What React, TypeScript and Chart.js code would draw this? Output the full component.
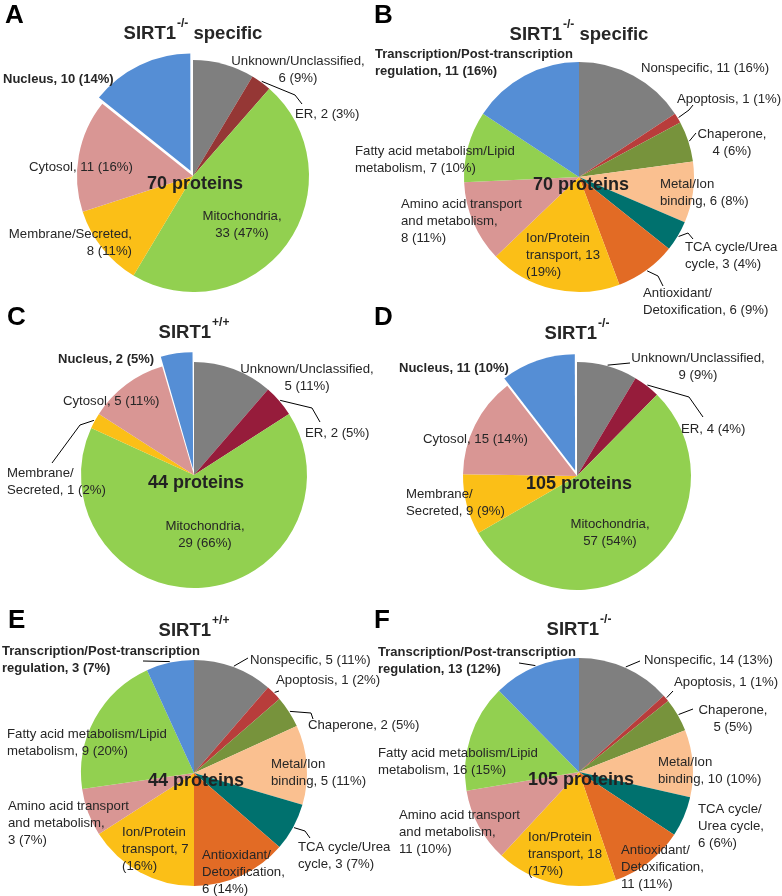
import React, { useEffect, useRef } from 'react';
import { Chart, registerables } from 'chart.js';

Chart.register(...registerables);

const W = 782;
const H = 896;
const FONT = '"Liberation Sans", Arial, Helvetica, sans-serif';
const TEXT = '#262626';

// ---------- data ----------
const locationCategories = ['Unknown/Unclassified', 'ER', 'Mitochondria', 'Membrane/Secreted', 'Cytosol', 'Nucleus'];
const locationA = [6, 2, 33, 8, 11, 10];
const locationC = [5, 2, 29, 1, 5, 2];
const locationD = [9, 4, 57, 9, 15, 11];

const functionCategories = [
  'Nonspecific', 'Apoptosis', 'Chaperone', 'Metal/Ion binding', 'TCA cycle/Urea cycle',
  'Antioxidant/Detoxification', 'Ion/Protein transport', 'Amino acid transport and metabolism',
  'Fatty acid metabolism/Lipid metabolism', 'Transcription/Post-transcription regulation',
];
const functionB = [11, 1, 4, 6, 3, 6, 13, 8, 7, 11];
const functionE = [5, 1, 2, 5, 3, 6, 7, 3, 9, 3];
const functionF = [14, 1, 5, 10, 6, 11, 18, 11, 16, 13];

const proteinTotals = ['70 proteins', '70 proteins', '44 proteins', '105 proteins', '44 proteins', '105 proteins'];

// ---------- styles ----------
const locColorsA = ['#7F7F7F', '#953735', '#92D050', '#FBBF17', '#D99694', '#558ED5'];
const locColorsCD = ['#7F7F7F', '#961C3B', '#92D050', '#FBBF17', '#D99694', '#558ED5'];
const funcColors = ['#7F7F7F', '#B83D3B', '#77933C', '#FAC090', '#00716E', '#E26B25', '#FBBF17', '#D99694', '#92D050', '#558ED5'];
const nucleusExplode = [0, 0, 0, 0, 0, 23];
const noExplode = [0, 0, 0, 0, 0, 0, 0, 0, 0, 0];

type Label = { lines: string[]; x: number; y: number; align?: CanvasTextAlign; bold?: boolean };
type Leader = { slice: number; pts: [number, number][] };
type Panel = {
  letter: string; lx: number; ly: number;
  title: string; sup: string; rest: string;
  cx: number; cy: number; r: number;
  cats: string[]; values: number[]; colors: string[]; offsets: number[];
  center: string;
  labels: Label[]; leaders: Leader[];
};

const panels: Panel[] = [
  {
    letter: 'A', lx: 5, ly: 23, title: 'SIRT1', sup: '-/-', rest: ' specific',
    cx: 193, cy: 176, r: 116, cats: locationCategories, values: locationA, colors: locColorsA, offsets: nucleusExplode,
    center: proteinTotals[0],
    labels: [
      { lines: ['Unknown/Unclassified,', '6 (9%)'], x: 298, y: 65, align: 'center' },
      { lines: ['ER, 2 (3%)'], x: 295, y: 118 },
      { lines: ['Mitochondria,', '33 (47%)'], x: 242, y: 220, align: 'center' },
      { lines: ['Membrane/Secreted,', '8 (11%)'], x: 132, y: 238, align: 'right' },
      { lines: ['Cytosol, 11 (16%)'], x: 29, y: 171 },
      { lines: ['Nucleus, 10 (14%)'], x: 3, y: 83, bold: true },
    ],
    leaders: [{ slice: 1, pts: [[295, 95], [302, 104]] }],
  },
  {
    letter: 'B', lx: 374, ly: 23, title: 'SIRT1', sup: '-/-', rest: ' specific',
    cx: 579, cy: 177, r: 115, cats: functionCategories, values: functionB, colors: funcColors, offsets: noExplode,
    center: proteinTotals[1],
    labels: [
      { lines: ['Transcription/Post-transcription', 'regulation, 11 (16%)'], x: 375, y: 58, bold: true },
      { lines: ['Nonspecific, 11 (16%)'], x: 641, y: 72 },
      { lines: ['Apoptosis, 1 (1%)'], x: 677, y: 103 },
      { lines: ['Chaperone,', '4 (6%)'], x: 732, y: 138, align: 'center' },
      { lines: ['Metal/Ion', 'binding, 6 (8%)'], x: 660, y: 188 },
      { lines: ['TCA cycle/Urea', 'cycle, 3 (4%)'], x: 685, y: 251 },
      { lines: ['Antioxidant/', 'Detoxification, 6 (9%)'], x: 643, y: 297 },
      { lines: ['Ion/Protein', 'transport, 13', '(19%)'], x: 526, y: 242 },
      { lines: ['Amino acid transport', 'and metabolism,', '8 (11%)'], x: 401, y: 208 },
      { lines: ['Fatty acid metabolism/Lipid', 'metabolism, 7 (10%)'], x: 355, y: 155 },
    ],
    leaders: [
      { slice: 1, pts: [[689, 110], [693, 105]] },
      { slice: 2, pts: [[696, 133]] },
      { slice: 4, pts: [[688, 233], [693, 239]] },
      { slice: 5, pts: [[658, 276], [663, 286]] },
    ],
  },
  {
    letter: 'C', lx: 7, ly: 325, title: 'SIRT1', sup: '+/+', rest: '',
    cx: 194, cy: 475, r: 113, cats: locationCategories, values: locationC, colors: locColorsCD, offsets: nucleusExplode,
    center: proteinTotals[2],
    labels: [
      { lines: ['Nucleus, 2 (5%)'], x: 58, y: 363, bold: true },
      { lines: ['Unknown/Unclassified,', '5 (11%)'], x: 307, y: 373, align: 'center' },
      { lines: ['ER, 2 (5%)'], x: 305, y: 437 },
      { lines: ['Cytosol, 5 (11%)'], x: 63, y: 405 },
      { lines: ['Membrane/', 'Secreted, 1 (2%)'], x: 7, y: 477 },
      { lines: ['Mitochondria,', '29 (66%)'], x: 205, y: 530, align: 'center' },
    ],
    leaders: [
      { slice: 1, pts: [[312, 408], [320, 422]] },
      { slice: 3, pts: [[80, 425], [52, 463]] },
    ],
  },
  {
    letter: 'D', lx: 374, ly: 325, title: 'SIRT1', sup: '-/-', rest: '',
    cx: 577, cy: 476, r: 114, cats: locationCategories, values: locationD, colors: locColorsCD, offsets: nucleusExplode,
    center: proteinTotals[3],
    labels: [
      { lines: ['Nucleus, 11 (10%)'], x: 399, y: 372, bold: true },
      { lines: ['Unknown/Unclassified,', '9 (9%)'], x: 698, y: 362, align: 'center' },
      { lines: ['ER, 4 (4%)'], x: 681, y: 433 },
      { lines: ['Cytosol, 15 (14%)'], x: 423, y: 443 },
      { lines: ['Membrane/', 'Secreted, 9 (9%)'], x: 406, y: 498 },
      { lines: ['Mitochondria,', '57 (54%)'], x: 610, y: 528, align: 'center' },
    ],
    leaders: [
      { slice: 0, pts: [[630, 363]] },
      { slice: 1, pts: [[689, 397], [703, 417]] },
    ],
  },
  {
    letter: 'E', lx: 8, ly: 628, title: 'SIRT1', sup: '+/+', rest: '',
    cx: 194, cy: 773, r: 113, cats: functionCategories, values: functionE, colors: funcColors, offsets: noExplode,
    center: proteinTotals[4],
    labels: [
      { lines: ['Transcription/Post-transcription', 'regulation, 3 (7%)'], x: 2, y: 655, bold: true },
      { lines: ['Nonspecific, 5 (11%)'], x: 250, y: 664 },
      { lines: ['Apoptosis, 1 (2%)'], x: 276, y: 684 },
      { lines: ['Chaperone, 2 (5%)'], x: 308, y: 729 },
      { lines: ['Metal/Ion', 'binding, 5 (11%)'], x: 271, y: 768 },
      { lines: ['TCA cycle/Urea', 'cycle, 3 (7%)'], x: 298, y: 851 },
      { lines: ['Antioxidant/', 'Detoxification,', '6 (14%)'], x: 202, y: 859 },
      { lines: ['Ion/Protein', 'transport, 7', '(16%)'], x: 122, y: 836 },
      { lines: ['Amino acid transport', 'and metabolism,', '3 (7%)'], x: 8, y: 810 },
      { lines: ['Fatty acid metabolism/Lipid', 'metabolism, 9 (20%)'], x: 7, y: 738 },
    ],
    leaders: [
      { slice: 9, pts: [[143, 661]] },
      { slice: 0, pts: [[248, 658]] },
      { slice: 1, pts: [[279, 691]] },
      { slice: 2, pts: [[311, 713], [313, 719]] },
      { slice: 4, pts: [[305, 831], [310, 838]] },
    ],
  },
  {
    letter: 'F', lx: 374, ly: 628, title: 'SIRT1', sup: '-/-', rest: '',
    cx: 579, cy: 772, r: 114, cats: functionCategories, values: functionF, colors: funcColors, offsets: noExplode,
    center: proteinTotals[5],
    labels: [
      { lines: ['Transcription/Post-transcription', 'regulation, 13 (12%)'], x: 378, y: 656, bold: true },
      { lines: ['Nonspecific, 14 (13%)'], x: 644, y: 664 },
      { lines: ['Apoptosis, 1 (1%)'], x: 674, y: 686 },
      { lines: ['Chaperone,', '5 (5%)'], x: 733, y: 714, align: 'center' },
      { lines: ['Metal/Ion', 'binding, 10 (10%)'], x: 658, y: 766 },
      { lines: ['TCA cycle/', 'Urea cycle,', '6 (6%)'], x: 698, y: 813 },
      { lines: ['Antioxidant/', 'Detoxification,', '11 (11%)'], x: 621, y: 854 },
      { lines: ['Ion/Protein', 'transport, 18', '(17%)'], x: 528, y: 841 },
      { lines: ['Amino acid transport', 'and metabolism,', '11 (10%)'], x: 399, y: 819 },
      { lines: ['Fatty acid metabolism/Lipid', 'metabolism, 16 (15%)'], x: 378, y: 757 },
    ],
    leaders: [
      { slice: 9, pts: [[519, 663]] },
      { slice: 0, pts: [[640, 661]] },
      { slice: 1, pts: [[673, 691]] },
      { slice: 2, pts: [[693, 709]] },
    ],
  },
];

const LINE_H = 17;

const panelPlugin = {
  id: 'panelText',
  afterDraw(chart: any, _args: any, opts: any) {
    const p: Panel = opts.panel;
    const ctx: CanvasRenderingContext2D = chart.ctx;
    const meta = chart.getDatasetMeta(0);
    ctx.save();

    // leader lines, starting on the arc edge at the slice's mid angle
    ctx.strokeStyle = '#000';
    ctx.lineWidth = 1;
    p.leaders.forEach((ld) => {
      const arc: any = meta.data[ld.slice];
      const props = arc.getProps(['x', 'y', 'startAngle', 'endAngle', 'outerRadius'], true);
      const mid = (props.startAngle + props.endAngle) / 2;
      const sx = props.x + Math.cos(mid) * (props.outerRadius + 1);
      const sy = props.y + Math.sin(mid) * (props.outerRadius + 1);
      ctx.beginPath();
      ctx.moveTo(sx, sy);
      ld.pts.forEach(([x, y]) => ctx.lineTo(x, y));
      ctx.stroke();
    });

    // data labels
    ctx.fillStyle = TEXT;
    ctx.textBaseline = 'alphabetic';
    p.labels.forEach((lb) => {
      ctx.font = lb.bold ? `bold 13px ${FONT}` : `13.2px ${FONT}`;
      ctx.textAlign = lb.align || 'left';
      lb.lines.forEach((line, i) => ctx.fillText(line, lb.x, lb.y + i * LINE_H));
    });

    // center total
    const c = meta.data[0];
    ctx.font = `bold 18px ${FONT}`;
    ctx.textAlign = 'center';
    ctx.fillStyle = '#222';
    ctx.fillText(p.center, c.x + 2, c.y + 13);

    // title with superscript
    const tb = c.y - 137;
    ctx.textAlign = 'left';
    ctx.fillStyle = TEXT;
    ctx.font = `bold 18.5px ${FONT}`;
    const w1 = ctx.measureText(p.title).width;
    const w3 = ctx.measureText(p.rest).width;
    ctx.font = `bold 12px ${FONT}`;
    const w2 = ctx.measureText(p.sup).width + 1;
    let tx = c.x - (w1 + w2 + w3) / 2;
    ctx.font = `bold 18.5px ${FONT}`;
    ctx.fillText(p.title, tx, tb);
    tx += w1;
    ctx.font = `bold 12px ${FONT}`;
    ctx.fillText(p.sup, tx + 1, tb - 12);
    tx += w2;
    ctx.font = `bold 18.5px ${FONT}`;
    ctx.fillText(p.rest, tx, tb);

    // panel letter
    ctx.fillStyle = '#000';
    ctx.font = `bold 26px ${FONT}`;
    ctx.fillText(p.letter, p.lx, p.ly);
    ctx.restore();
  },
};

function PiePanel({ panel }: { panel: Panel }) {
  const ref = useRef<HTMLCanvasElement | null>(null);
  useEffect(() => {
    if (!ref.current) return;
    const { cx, cy } = panel;
    const half = Math.min(cx, W - cx, cy, H - cy);
    const chart = new Chart(ref.current, {
      type: 'pie',
      data: {
        labels: panel.cats,
        datasets: [
          {
            data: panel.values,
            backgroundColor: panel.colors,
            borderWidth: 0,
            offset: panel.offsets,
            hoverOffset: 0,
            radius: panel.r,
          } as any,
        ],
      },
      options: {
        animation: false,
        responsive: false,
        events: [],
        radius: panel.r,
        layout: { padding: { left: cx - half, right: W - cx - half, top: cy - half, bottom: H - cy - half } },
        plugins: {
          legend: { display: false },
          tooltip: { enabled: false },
          panelText: { panel },
        },
      } as any,
      plugins: [panelPlugin],
    });
    return () => chart.destroy();
  }, [panel]);
  return (
    <canvas
      ref={ref}
      width={W}
      height={H}
      style={{ position: 'absolute', left: 0, top: 0, width: W, height: H }}
    />
  );
}

export default function App() {
  return (
    <div style={{ position: 'absolute', left: 0, top: 0, width: W, height: H, background: '#fff', overflow: 'hidden' }}>
      {panels.map((p) => (
        <PiePanel key={p.letter} panel={p} />
      ))}
    </div>
  );
}
